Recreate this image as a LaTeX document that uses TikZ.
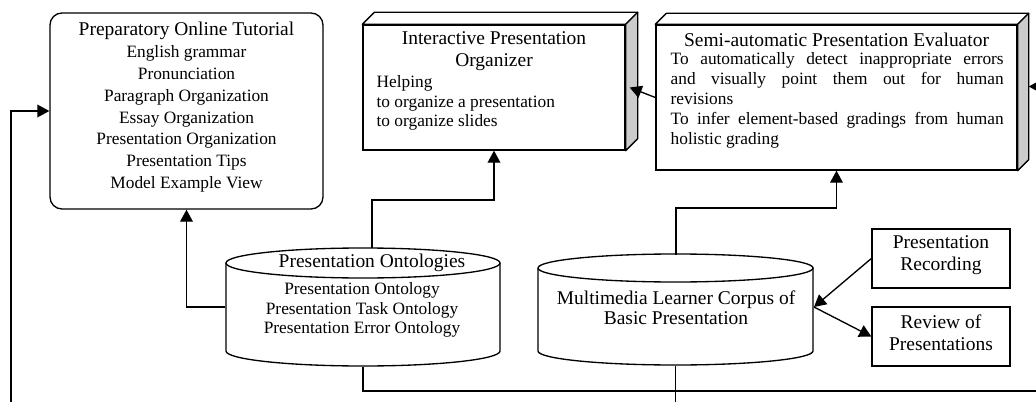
\documentclass[tikz,border=0pt]{standalone}
\usepackage{fontspec}
\setmainfont{Liberation Serif}
\usetikzlibrary{arrows.meta,fit,calc}

\begin{document}
\begin{tikzpicture}[x=0.75pt,y=0.75pt,
  line width=1pt,
  arr/.style={-{Triangle[length=9pt,width=9.5pt]}},
  frame/.style={draw, inner sep=0pt},
  sideface/.style={draw, fill=black!20, line join=round},
  topface/.style={draw, fill=white, line join=round},
  ttl/.style={font=\fontsize{14.6}{16.5}\selectfont, inner sep=0pt},
  body/.style={font=\fontsize{13}{14.6}\selectfont, inner sep=0pt},
]
\useasboundingbox (0,0) rectangle (1036,401);

% Preparatory Online Tutorial
\node[frame, rounded corners=9pt, fit={(50,192) (323,388)}] (tut) {};
\node[ttl] (tutT) at (186.5,370) {Preparatory Online Tutorial};
\node[body, align=center, font=\fontsize{13}{16.3}\selectfont] (tutB) at (186.5,282)
  {English grammar\\Pronunciation\\Paragraph Organization\\Essay Organization\\Presentation Organization\\Presentation Tips\\Model Example View};

% Interactive Presentation Organizer (3D box)
\node[frame, fit={(363,251) (625,376)}] (org) {};
\draw[topface] (org.north west) -- ++(12,12) -- ($(org.north east)+(12,12)$) -- (org.north east) -- cycle;
\draw[sideface] (org.north east) -- ++(12,12) -- ($(org.south east)+(12,12)$) -- (org.south east) -- cycle;
\node[ttl, align=center] (orgT) at (494,350) {Interactive Presentation\\Organizer};
\node[body, align=left, anchor=west] (orgB) at (376,298)
  {Helping\\to organize a presentation\\to organize slides};

% Semi-automatic Presentation Evaluator (3D box)
\node[frame, fit={(656,231) (1017,376)}] (eval) {};
\draw[topface] (eval.north west) -- ++(11,11) -- ($(eval.north east)+(11,11)$) -- (eval.north east) -- cycle;
\draw[sideface] (eval.north east) -- ++(11,11) -- ($(eval.south east)+(11,11)$) -- (eval.south east) -- cycle;
\node[ttl] (evT) at (836.5,361) {Semi-automatic Presentation Evaluator};
\node[body, align=left, anchor=west, font=\fontsize{13}{15}\selectfont] (evB) at (670,301)
  {\makebox[249.75pt][s]{To automatically detect inappropriate errors}\\
   \makebox[249.75pt][s]{and visually point them out for human}\\
   revisions\\
   \makebox[249.75pt][s]{To infer element-based gradings from human}\\
   holistic grading};

% Presentation Ontologies (cylinder)
\draw[fill=white] (226,138) -- (226,50) arc[start angle=180, end angle=360, x radius=137, y radius=15] -- (500,138);
\draw[fill=white] (363,138) ellipse[x radius=137, y radius=15];
\node[inner sep=0pt, fit={(226,35) (500,153)}] (onto) {};
\node[ttl] (ontoT) at (372,138) {Presentation Ontologies};
\node[body, align=center] (ontoB) at (362,91)
  {Presentation Ontology\\Presentation Task Ontology\\Presentation Error Ontology};

% Multimedia Learner Corpus (cylinder)
\draw[fill=white] (538,133) -- (538,50) arc[start angle=180, end angle=360, x radius=137.5, y radius=14] -- (813,133);
\draw[fill=white] (675.5,133) ellipse[x radius=137.5, y radius=14];
\node[inner sep=0pt, fit={(538,36) (813,147)}] (corp) {};
\node[ttl, align=center, font=\fontsize{14.6}{15}\selectfont] (corpT) at (676,93)
  {Multimedia Learner Corpus of\\Basic Presentation};

% Recording and review boxes
\node[frame, fit={(872,113) (1010,172)}] (rec) {};
\node[ttl, align=center] (recT) at (941,146) {Presentation\\Recording};
\node[frame, fit={(872,35) (1010,94)}] (rev) {};
\node[ttl, align=center] (revT) at (941,68) {Review of\\Presentations};

% Connectors
\coordinate (fbStart) at (11,-5);
\coordinate (ontoTop) at (372,153);
\coordinate (corpTop) at (676,146);
\coordinate (corpR) at (814,94);
\coordinate (evIn) at (1048,314.5);
\coordinate (busEnd) at (1040,10);
\coordinate (corpOut) at (675.5,-5);

\draw[arr] (fbStart) |- (tut.west);
\draw[arr] (onto.west) -| (tut.south);
\draw[arr] (ontoTop) -- ++(0,48) -| (org.south);
\draw[arr] (corpTop) -- ++(0,47) -| (eval.south);
\draw[arr] (eval.west) -- ($(org.east)+(4,0)$);
\draw[arr] (evIn) -- ($(eval.east)+(11,11)$);
\draw (onto.south) |- (busEnd);
\draw (corp.south) -- (corpOut);
\draw[arr] (rec.west) -- (corpR);
\draw[arr] (corpR) -- (rev.west);
\end{tikzpicture}
\end{document}
